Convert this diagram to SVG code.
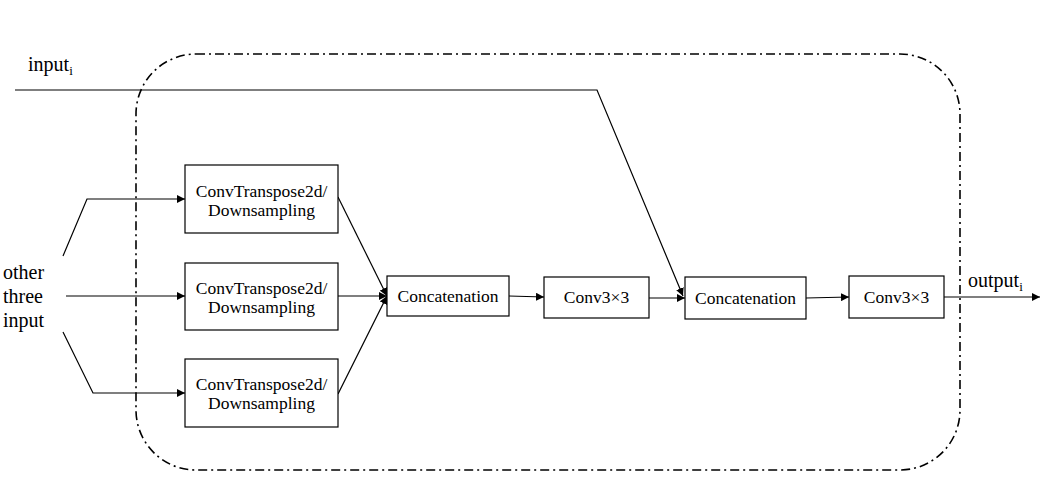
<svg xmlns="http://www.w3.org/2000/svg" width="1042" height="484" viewBox="0 0 1042 484">
<style>
.box{fill:#fff;stroke:#000;stroke-width:1.2}
.t{font-family:'Liberation Serif',serif;font-size:17.5px;fill:#000;text-anchor:middle}
.lbl{font-family:'Liberation Serif',serif;font-size:20px;fill:#000}
.c{fill:none;stroke:#000;stroke-width:1.2}
</style>
<defs>
<marker id="ah" viewBox="0 0 10 10" refX="10" refY="5" markerWidth="8" markerHeight="8" markerUnits="userSpaceOnUse" orient="auto">
<path d="M0,0 L10,5 L0,10 z" fill="#000"/>
</marker>
</defs>
<rect id="frame" x="136" y="54" width="824" height="416" rx="60" ry="60" fill="none" stroke="#000" stroke-width="1.6" stroke-dasharray="9,4,2,4"/>
<g id="connectors">
<polyline class="c" points="15,90 597,90 683,296" marker-end="url(#ah)"/>
<polyline class="c" points="63,256 87,199 185,199" marker-end="url(#ah)"/>
<line class="c" x1="66" y1="296" x2="185" y2="296" marker-end="url(#ah)"/>
<polyline class="c" points="63,332 93,393 185,393" marker-end="url(#ah)"/>
<line class="c" x1="338" y1="197" x2="387" y2="296" marker-end="url(#ah)"/>
<line class="c" x1="338" y1="296" x2="387" y2="296" marker-end="url(#ah)"/>
<line class="c" x1="338" y1="394" x2="387" y2="296" marker-end="url(#ah)"/>
<line class="c" x1="509" y1="296" x2="544" y2="297" marker-end="url(#ah)"/>
<line class="c" x1="649" y1="298" x2="685" y2="298" marker-end="url(#ah)"/>
<line class="c" x1="806" y1="298" x2="849" y2="297" marker-end="url(#ah)"/>
<line class="c" x1="944" y1="297" x2="1040" y2="297" marker-end="url(#ah)"/>
</g>
<g id="input_label"><text class="lbl" font-family="Liberation Serif" x="28" y="71">input<tspan font-size="13" dy="4">i</tspan></text></g>
<g id="other_label">
<text class="lbl" font-family="Liberation Serif" x="3" y="279">other</text>
<text class="lbl" font-family="Liberation Serif" x="3" y="303">three</text>
<text class="lbl" font-family="Liberation Serif" x="3" y="327">input</text>
</g>
<g id="output_label"><text class="lbl" font-family="Liberation Serif" x="968" y="287">output<tspan font-size="13" dy="4">i</tspan></text></g>
<g id="convt1"><rect class="box" x="185" y="165" width="153" height="68"/><text class="t" x="261.5" y="197">ConvTranspose2d/</text><text class="t" x="261.5" y="216">Downsampling</text></g>
<g id="convt2"><rect class="box" x="185" y="263" width="153" height="67"/><text class="t" x="261.5" y="294">ConvTranspose2d/</text><text class="t" x="261.5" y="313">Downsampling</text></g>
<g id="convt3"><rect class="box" x="185" y="359" width="153" height="68"/><text class="t" x="261.5" y="390">ConvTranspose2d/</text><text class="t" x="261.5" y="409">Downsampling</text></g>
<g id="concat1"><rect class="box" x="387" y="276" width="122" height="40"/><text class="t" x="448" y="302">Concatenation</text></g>
<g id="conv1"><rect class="box" x="544" y="277" width="105" height="41"/><text class="t" x="596.5" y="303">Conv3×3</text></g>
<g id="concat2"><rect class="box" x="685" y="277" width="121" height="42"/><text class="t" x="745.5" y="304">Concatenation</text></g>
<g id="conv2"><rect class="box" x="849" y="276" width="95" height="42"/><text class="t" x="896.5" y="303">Conv3×3</text></g>
</svg>
